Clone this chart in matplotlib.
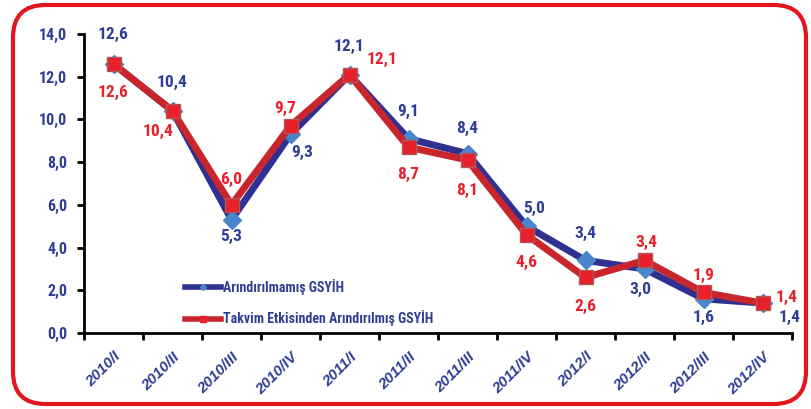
import matplotlib.pyplot as plt
from matplotlib.patches import FancyBboxPatch
from matplotlib.lines import Line2D

# Data
quarters = ['2010/I', '2010/II', '2010/III', '2010/IV', '2011/I', '2011/II',
            '2011/III', '2011/IV', '2012/I', '2012/II', '2012/III', '2012/IV']
raw_gdp = [12.6, 10.4, 5.3, 9.3, 12.1, 9.1, 8.4, 5.0, 3.4, 3.0, 1.6, 1.4]
adj_gdp = [12.6, 10.4, 6.0, 9.7, 12.1, 8.7, 8.1, 4.6, 2.6, 3.4, 1.9, 1.4]
raw_label = 'Arındırılmamış GSYİH'
adj_label = 'Takvim Etkisinden Arındırılmış GSYİH'

# label offsets in pixels (dx, dy)
raw_off = [(0, 29), (0, 28), (0, -17), (12, -18), (0, 28), (0, 27),
           (0, 25), (8, 18), (0, 27), (-4, -21), (0, -19), (27, -14)]
adj_off = [(0, -29), (-14, -21), (0, 25), (-5, 17), (33, 15), (0, -27),
           (0, -30), (0, -28), (0, -29), (2, 18), (0, 17), (24, 6)]

navy = '#2E3192'
blue_mk = '#4A86CC'
red_line = '#C8262C'
red_mk = '#E8202A'
lbl_blue = '#2F3F94'
cond = ['Roboto Condensed', 'Liberation Sans', 'DejaVu Sans']

plt.rcParams['font.family'] = ['Liberation Sans', 'DejaVu Sans']
plt.rcParams['font.weight'] = 'bold'

fig = plt.figure(figsize=(8.11, 4.09), dpi=100)
ax = fig.add_axes([84 / 811, 76 / 409, 708 / 811, 299 / 409])

# red rounded frame around the whole figure
frame = FancyBboxPatch((13 / 811, 5 / 409), 793 / 811, 399 / 409,
                       boxstyle='round,pad=0,rounding_size=0.04',
                       transform=fig.transFigure, fill=False,
                       edgecolor='#E3161E', linewidth=3, zorder=0,
                       mutation_aspect=811 / 409)
fig.patches.append(frame)

x = list(range(len(quarters)))
ax.plot(x, raw_gdp, color=navy, lw=5, marker='D', ms=9, mfc=blue_mk,
        mec=blue_mk, zorder=2, solid_joinstyle='miter')
ax.plot(x, adj_gdp, color=red_line, lw=5, marker='s', ms=10, mfc=red_mk,
        mec='#B0575A', mew=1, zorder=3, solid_joinstyle='miter')

for i in x:
    ax.annotate(f'{raw_gdp[i]:.1f}'.replace('.', ','), (i, raw_gdp[i]),
                xytext=raw_off[i], textcoords='offset pixels',
                ha='center', va='center', color=lbl_blue, fontsize=12.5,
                fontweight='bold', family=cond, zorder=5)
    ax.annotate(f'{adj_gdp[i]:.1f}'.replace('.', ','), (i, adj_gdp[i]),
                xytext=adj_off[i], textcoords='offset pixels',
                ha='center', va='center', color=red_mk, fontsize=12.5,
                fontweight='bold', family=cond, zorder=5)

ax.set_xlim(-0.5, 11.5)
ax.set_ylim(0, 14)
ax.set_yticks([0, 2, 4, 6, 8, 10, 12, 14])
ax.set_yticklabels([f'{v:.1f}'.replace('.', ',') for v in range(0, 16, 2)],
                   color=lbl_blue, fontsize=11.5, fontweight='bold', family=cond)

# ticks between categories, labels at category centres
ax.set_xticks([i - 0.5 for i in range(13)])
ax.set_xticklabels([])
ax.set_xticks(x, minor=True)
ax.set_xticklabels(quarters, minor=True, rotation=45, ha='right',
                   rotation_mode='anchor', color=lbl_blue, fontsize=11,
                   fontweight='bold', fontstyle='italic')
ax.tick_params(axis='x', which='minor', length=0, pad=12)
ax.tick_params(axis='both', which='major', length=5, width=2, direction='out')
ax.tick_params(axis='y', pad=7)

for s in ['top', 'right']:
    ax.spines[s].set_visible(False)
for s in ['left', 'bottom']:
    ax.spines[s].set_linewidth(2)

handles = [Line2D([], [], color=navy, lw=4, marker='D', ms=3, mfc=blue_mk, mec=blue_mk),
           Line2D([], [], color=red_line, lw=4, marker='s', ms=4, mfc=red_mk, mec=red_mk)]
leg = ax.legend(handles, [raw_label, adj_label], loc='lower left',
                bbox_to_anchor=(0.125, -0.02), frameon=False, handlelength=2.6,
                handletextpad=0.15, labelspacing=1.1,
                prop={'family': cond, 'weight': 'bold', 'size': 10})
for t in leg.get_texts():
    t.set_color(lbl_blue)

fig.savefig('out.png', dpi=100)
